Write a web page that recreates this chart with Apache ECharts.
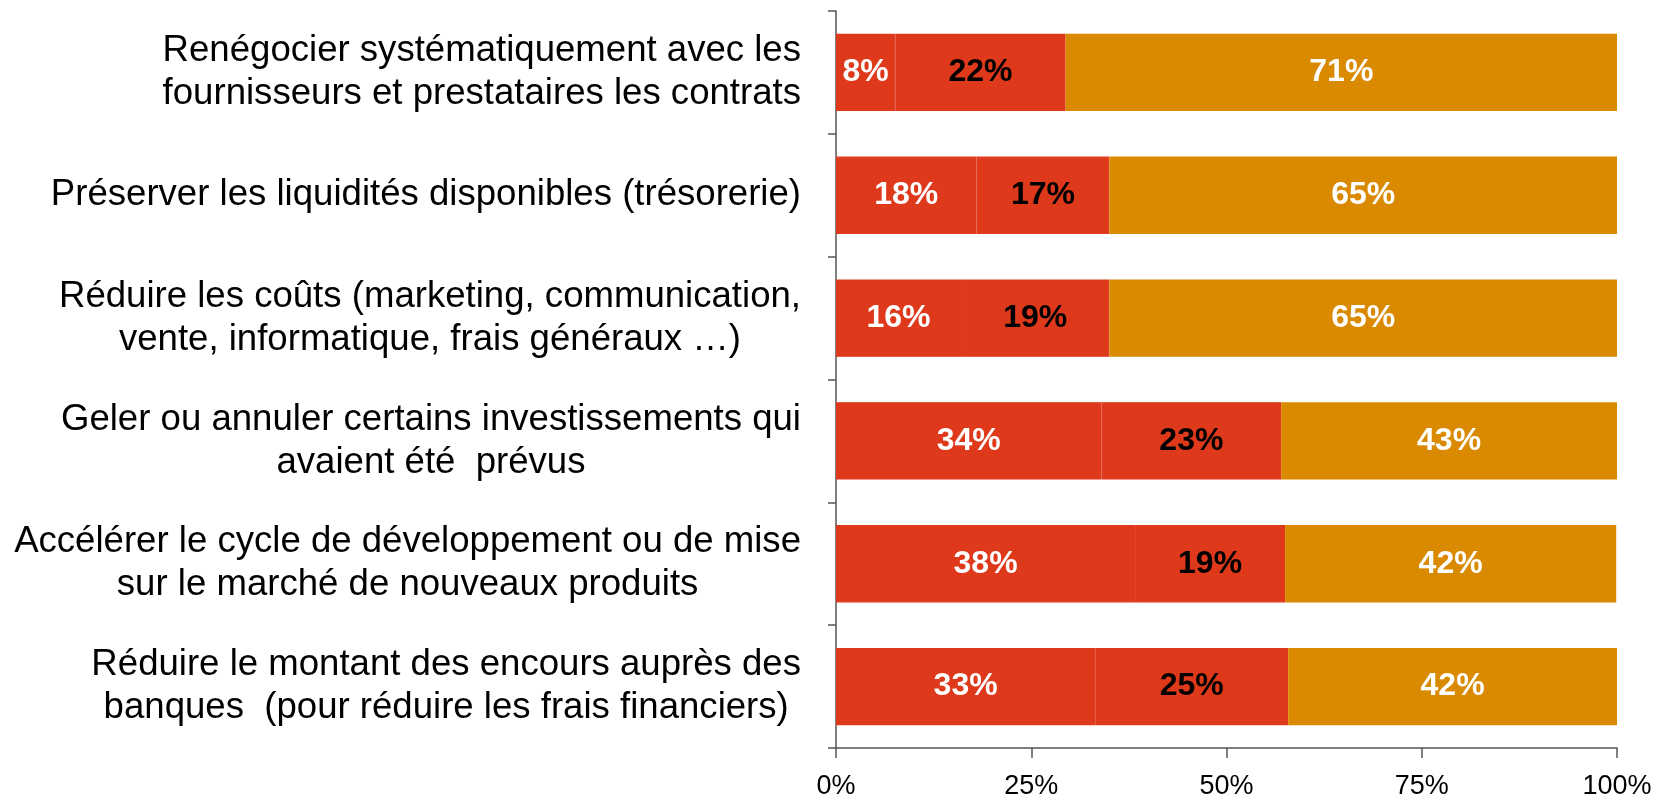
<!DOCTYPE html>
<html>
<head>
<meta charset="utf-8">
<title>Actions</title>
<script src="https://cdn.jsdelivr.net/npm/echarts@6/dist/echarts.min.js"></script>
<style>
  html, body { margin: 0; padding: 0; background: #fff; }
  #chart { width: 1660px; height: 800px; }
</style>
</head>
<body>
<div id="chart"></div>
<script>
const categories = [
  'Renégocier systématiquement avec les\nfournisseurs et prestataires les contrats',
  'Préserver les liquidités disponibles (trésorerie)',
  'Réduire les coûts (marketing, communication,\nvente, informatique, frais généraux …)',
  'Geler ou annuler certains investissements qui\navaient été  prévus',
  'Accélérer le cycle de développement ou de mise\nsur le marché de nouveaux produits',
  'Réduire le montant des encours auprès des\nbanques  (pour réduire les frais financiers)',
]
const firstShare = [7.6, 18, 16, 34, 38.3, 33.2]
const secondShare = [21.8, 17, 19, 23, 19.2, 24.7]
const thirdShare = [70.6, 65, 65, 43, 42.4, 42.1]
const tickValues = [0, 25, 50, 75, 100]

const FONT = '"Liberation Sans", Arial, sans-serif'
const RED = '#df391c'
const ORANGE = '#d98a00'

const pctLabel = (color) => ({
  show: true,
  position: 'inside',
  color: color,
  fontFamily: FONT,
  fontWeight: 'bold',
  fontSize: 32,
  formatter: (p) => Math.round(p.value) + '%',
})

const chart = echarts.init(document.getElementById('chart'))

chart.setOption({
  animation: false,
  grid: { left: 836, right: 43, top: 11, bottom: 46, containLabel: false },
  xAxis: {
    type: 'value',
    min: tickValues[0],
    max: tickValues[tickValues.length - 1],
    interval: 25,
    axisLine: { show: true, lineStyle: { color: '#555', width: 1.5 } },
    axisTick: { show: true, length: 10, lineStyle: { color: '#555', width: 1.5 } },
    splitLine: { show: false },
    axisLabel: {
      margin: 25,
      color: '#000',
      fontFamily: FONT,
      fontSize: 27,
      formatter: '{value}%',
    },
  },
  yAxis: {
    type: 'category',
    inverse: true,
    data: categories,
    axisLine: { show: true, lineStyle: { color: '#555', width: 1.5 } },
    axisTick: { show: true, length: 8, lineStyle: { color: '#555', width: 1.5 } },
    axisLabel: {
      margin: 35,
      align: 'right',
      formatter: (v) => v.split('\n').map(l => '{c|' + l + '}').join('\n'),
      rich: {
        c: { align: 'center', color: '#000', fontFamily: FONT, fontSize: 36.6, lineHeight: 43 },
      },
    },
  },
  series: [
    {
      name: 'a', type: 'bar', stack: 'all', barWidth: '63%',
      itemStyle: { color: RED, borderColor: RED, borderWidth: 1.2 },
      label: pctLabel('#fff'), data: firstShare,
    },
    {
      name: 'b', type: 'bar', stack: 'all', barWidth: '63%',
      itemStyle: { color: RED, borderColor: RED, borderWidth: 1.2 },
      label: pctLabel('#000'), data: secondShare,
    },
    {
      name: 'c', type: 'bar', stack: 'all', barWidth: '63%',
      itemStyle: { color: ORANGE }, label: pctLabel('#fff'), data: thirdShare,
    },
  ],
})
</script>
</body>
</html>
